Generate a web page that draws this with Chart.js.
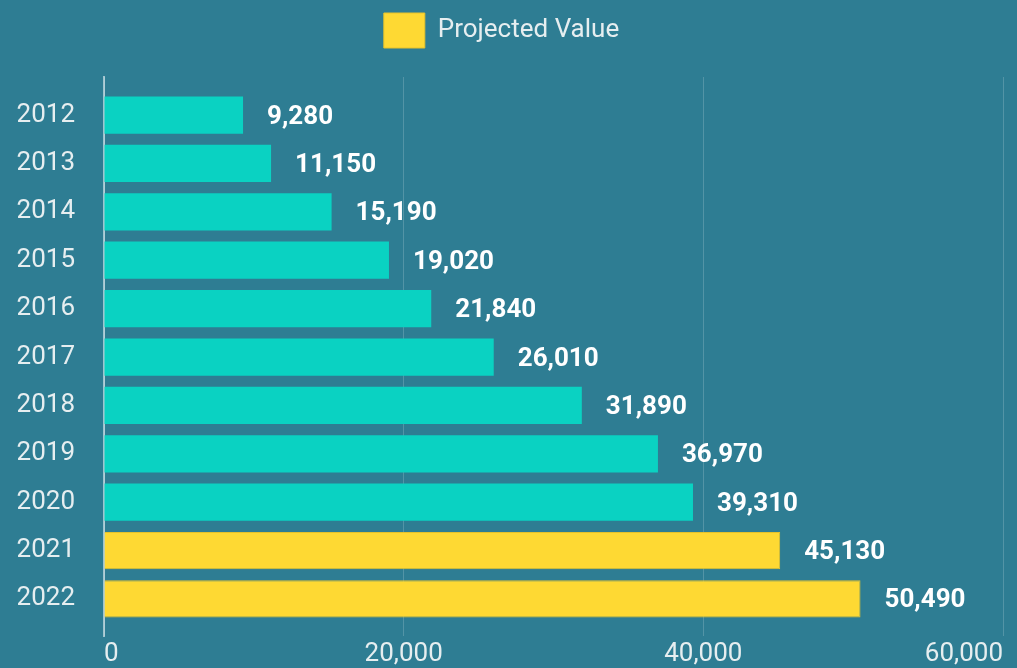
<!DOCTYPE html>
<html>
<head>
<meta charset="utf-8">
<script src="https://cdn.jsdelivr.net/npm/chart.js@4.4.1/dist/chart.umd.min.js"></script>
<style>
  html, body { margin: 0; padding: 0; background: #2e7d93; }
  #wrap { width: 1017px; height: 668px; }
</style>
</head>
<body>
<div id="wrap"><canvas id="valorChart"></canvas></div>
<script>
// dados do grafico
const anos = [2012, 2013, 2014, 2015, 2016, 2017, 2018, 2019, 2020, 2021, 2022];
const valoresReais = [9280, 11150, 15190, 19020, 21840, 26010, 31890, 36970, 39310, null, null];
const valoresProjetados = [null, null, null, null, null, null, null, null, null, 45130, 50490];
const ticksX = [0, 20000, 40000, 60000];

const corTexto = '#e6eef0';
const fonte = 'Roboto';

// rotulos de valor ao lado das barras
const rotulosValor = {
    id: 'rotulosValor',
    afterDatasetsDraw(chart) {
        const ctx = chart.ctx;
        ctx.save();
        ctx.font = 'bold 26px ' + fonte;
        ctx.fillStyle = '#ffffff';
        ctx.textAlign = 'left';
        ctx.textBaseline = 'middle';
        chart.data.datasets.forEach((ds, i) => {
            const meta = chart.getDatasetMeta(i);
            meta.data.forEach((bar, j) => {
                const v = ds.data[j];
                if (v === null || v === undefined) return;
                ctx.fillText(v.toLocaleString('en-US'), bar.x + 24, bar.y + 2);
            });
        });
        ctx.restore();
    }
};

// espaco extra abaixo da legenda
const espacoLegenda = {
    id: 'espacoLegenda',
    beforeInit(chart) {
        const fitOriginal = chart.legend.fit;
        chart.legend.fit = function () {
            fitOriginal.call(this);
            this.height += 19;
        };
    }
};

const ctx = document.getElementById('valorChart').getContext('2d');
new Chart(ctx, {
    type: 'bar',
    data: {
        labels: anos,
        datasets: [{
            label: 'Actual Value',
            data: valoresReais,
            backgroundColor: '#0ad2c2',
            categoryPercentage: 1,
            barPercentage: 0.77,
            grouped: false
        }, {
            label: 'Projected Value',
            data: valoresProjetados,
            backgroundColor: '#fed933',
            borderColor: '#e6c22a',
            borderWidth: 1,
            categoryPercentage: 1,
            barPercentage: 0.77,
            grouped: false
        }]
    },
    options: {
        indexAxis: 'y',
        responsive: true,
        maintainAspectRatio: false,
        animation: false,
        layout: { padding: { top: 1, right: 14, left: 0, bottom: 0 } },
        plugins: {
            legend: {
                display: true,
                position: 'top',
                labels: {
                    boxWidth: 41,
                    boxHeight: 35,
                    padding: 12,
                    color: corTexto,
                    font: { family: fonte, size: 26 },
                    filter: item => item.datasetIndex === 1
                }
            },
            tooltip: { enabled: false }
        },
        scales: {
            x: {
                min: 0,
                max: 60000,
                afterBuildTicks: axis => { axis.ticks = ticksX.map(v => ({ value: v })); },
                afterFit: axis => { axis.height = 32; },
                grid: { color: 'rgba(255,255,255,0.18)', drawTicks: false },
                border: { display: false },
                ticks: {
                    color: corTexto,
                    font: { family: fonte, size: 26 },
                    padding: 3,
                    align: 'inner',
                    maxRotation: 0,
                    callback: v => v.toLocaleString('en-US')
                }
            },
            y: {
                type: 'linear',
                reverse: true,
                offset: false,
                bounds: 'data',
                min: 2011.213,
                max: 2022.766,
                afterBuildTicks: axis => { axis.ticks = anos.map(v => ({ value: v })); },
                afterFit: axis => {
                    axis.width = 104;
                    axis.paddingTop = 0;
                    axis.paddingBottom = 0;
                },
                grid: { display: false, drawTicks: false },
                border: { display: true, color: 'rgba(255,255,255,0.55)', width: 2 },
                ticks: {
                    autoSkip: false,
                    padding: 29,
                    color: corTexto,
                    font: { family: fonte, size: 26 },
                    callback: v => String(v)
                }
            }
        }
    },
    plugins: [rotulosValor, espacoLegenda]
});
</script>
</body>
</html>
